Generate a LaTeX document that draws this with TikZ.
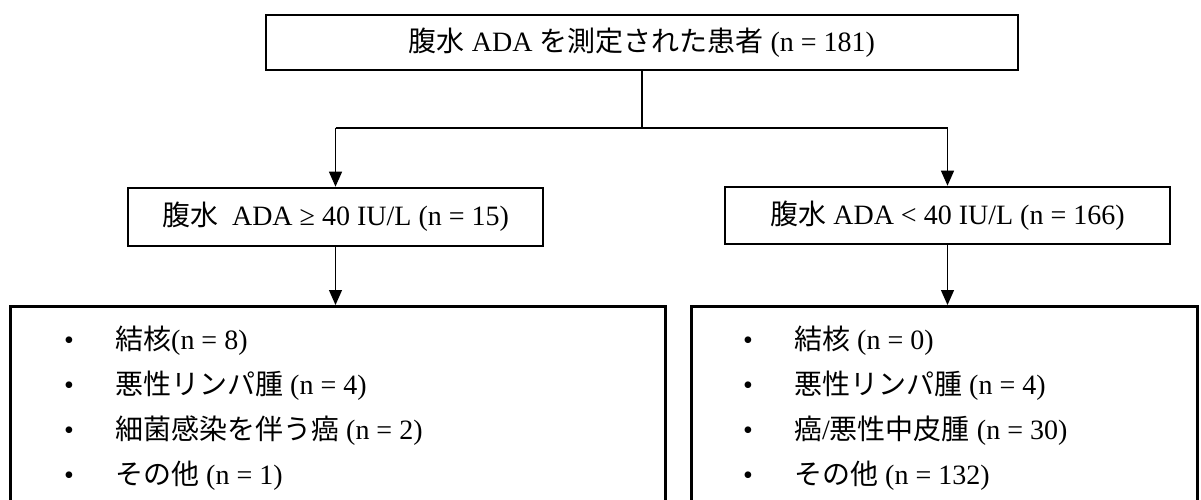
\documentclass[tikz,border=0pt]{standalone}
\usepackage{fontspec}
\setmainfont{Liberation Serif}
\newfontfamily\jp{Noto Sans CJK JP}
\usetikzlibrary{arrows.meta}
\begin{document}
\begin{tikzpicture}[x=1pt,y=-1pt,
  box/.style={draw=black, line width=2.6pt, inner sep=0pt, font=\fontsize{28}{33}\selectfont},
  bigbox/.style={draw=black, line width=2.6pt, inner sep=0pt, anchor=north west},
  conn/.style={draw=black, line width=1.2pt},
  arr/.style={conn, -{Triangle[width=13pt,length=15pt]}},
  item/.style={anchor=base west, inner sep=0pt, font=\fontsize{28}{33}\selectfont},
  bul/.style={anchor=base, inner sep=0pt, font=\fontsize{28}{33}\selectfont}]
\useasboundingbox (0,0) rectangle (1201,500);
\clip (0,0) rectangle (1201,500);
% top box
\node[box, minimum width=752pt, minimum height=55pt] (top) at (642,42.5)
  {{\jp 腹水} ADA {\jp を測定された患者} (n = 181)};
% middle boxes
\node[box, minimum width=415pt, minimum height=58pt] (ml) at (335.5,217)
  {{\jp 腹水}\ \ ADA ≥ 40 IU/L (n = 15)};
\node[box, minimum width=445pt, minimum height=57pt] (mr) at (947.5,215.5)
  {{\jp 腹水} ADA < 40 IU/L (n = 166)};
% bottom boxes
\node[bigbox, minimum width=655pt, minimum height=230pt] (bl) at (9,305) {};
\node[bigbox, minimum width=506pt, minimum height=230pt] (br) at (690,305) {};
% connectors
\coordinate (j) at (642,128);
\coordinate (jl) at (335.5,128);
\coordinate (jr) at (947.5,128);
\draw[conn] (top.south) -- (j);
\draw[conn] (jl) -- (jr);
\draw[arr] (jl) -- (ml.north);
\draw[arr] (jr) -- (mr.north);
\draw[arr] (ml.south) -- (ml.south |- bl.north);
\draw[arr] (mr.south) -- (mr.south |- br.north);
% left list
\node[bul] (lb1) at (69,349) {•};
\node[bul] (lb2) at (69,394) {•};
\node[bul] (lb3) at (69,439) {•};
\node[bul] (lb4) at (69,484) {•};
\node[item] (lt1) at (115,349) {{\jp 結核}(n = 8)};
\node[item] (lt2) at (115,394) {{\jp 悪性リンパ腫} (n = 4)};
\node[item] (lt3) at (115,439) {{\jp 細菌感染を伴う癌} (n = 2)};
\node[item] (lt4) at (115,484) {{\jp その他} (n = 1)};
% right list
\node[bul] (rb1) at (748,349) {•};
\node[bul] (rb2) at (748,394) {•};
\node[bul] (rb3) at (748,439) {•};
\node[bul] (rb4) at (748,484) {•};
\node[item] (rt1) at (794,349) {{\jp 結核} (n = 0)};
\node[item] (rt2) at (794,394) {{\jp 悪性リンパ腫} (n = 4)};
\node[item] (rt3) at (794,439) {{\jp 癌}/{\jp 悪性中皮腫} (n = 30)};
\node[item] (rt4) at (794,484) {{\jp その他} (n = 132)};
\end{tikzpicture}
\end{document}
